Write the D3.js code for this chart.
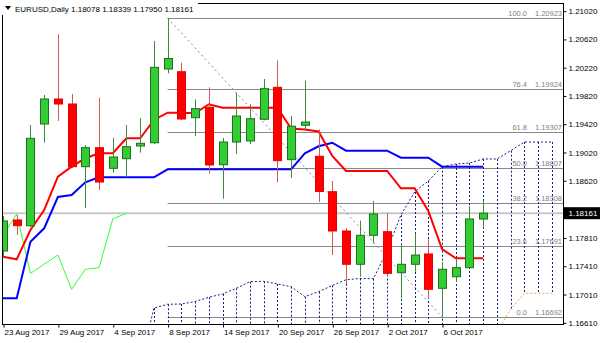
<!DOCTYPE html>
<html>
<head>
<meta charset="utf-8">
<script src="https://cdn.jsdelivr.net/npm/d3@7"></script>
<style>
  body { margin: 0; background: #fff; }
  svg text { font-family: "Liberation Sans", Arial, sans-serif; }
</style>
</head>
<body>
<svg width="600" height="343"></svg>
<script>
// EURUSD daily, 23 Aug - 11 Oct 2017
var dates = ["23 Aug 2017","24 Aug 2017","25 Aug 2017","28 Aug 2017","29 Aug 2017","30 Aug 2017",
  "31 Aug 2017","1 Sep 2017","4 Sep 2017","5 Sep 2017","6 Sep 2017","7 Sep 2017","8 Sep 2017",
  "11 Sep 2017","12 Sep 2017","13 Sep 2017","14 Sep 2017","15 Sep 2017","18 Sep 2017","19 Sep 2017",
  "20 Sep 2017","21 Sep 2017","22 Sep 2017","25 Sep 2017","26 Sep 2017","27 Sep 2017","28 Sep 2017",
  "29 Sep 2017","2 Oct 2017","3 Oct 2017","4 Oct 2017","5 Oct 2017","6 Oct 2017","9 Oct 2017",
  "10 Oct 2017","11 Oct 2017"];

var open = [1.17626,1.18065,1.17984,1.19423,1.19777,1.19706,1.18819,1.19088,1.18796,1.18932,1.19112,1.19158,
  1.20201,1.20163,1.19512,1.19659,1.18847,1.19168,1.19183,1.19490,1.19942,1.18918,1.19405,1.18966,
  1.18465,1.17909,1.17438,1.17848,1.17899,1.17319,1.17438,1.17584,1.17098,1.17262,1.17390,1.18078];
var high = [1.18121,1.18135,1.19409,1.19833,1.20692,1.19848,1.19126,1.19795,1.19229,1.19409,1.19504,1.20598,
  1.20923,1.20290,1.19773,1.19942,1.19225,1.19866,1.19702,1.20060,1.20324,1.19536,1.20036,1.19345,
  1.18617,1.17947,1.18055,1.18333,1.18160,1.17735,1.17876,1.17792,1.17470,1.17527,1.18263,1.18339];
var low = [1.17555,1.17852,1.17966,1.19158,1.19466,1.18800,1.18234,1.18489,1.18734,1.18669,1.19017,1.19140,
  1.20140,1.19475,1.19253,1.18720,1.18366,1.18999,1.19140,1.19475,1.18598,1.18659,1.19348,1.18319,
  1.17569,1.17159,1.17262,1.17735,1.17262,1.16957,1.17333,1.16957,1.16692,1.17187,1.17381,1.17950];
var close = [1.18051,1.17984,1.19221,1.19777,1.19706,1.18819,1.19088,1.18602,1.18956,1.19102,1.19150,1.20225,
  1.20350,1.19494,1.19640,1.18843,1.19168,1.19536,1.19498,1.19923,1.18904,1.19391,1.19451,1.18468,
  1.17909,1.17438,1.17848,1.18150,1.17310,1.17438,1.17569,1.17084,1.17367,1.17390,1.18079,1.18161];

// ichimoku lines
var tenkan = [1.17545,1.17509,1.17923,1.18206,1.18677,1.18819,1.18938,1.19009,1.19009,1.19221,1.19221,1.19480,
  1.19583,1.19583,1.19575,1.19702,1.19654,1.19654,1.19654,1.19654,1.19654,1.19359,1.19345,1.19317,
  1.18970,1.18758,1.18758,1.18758,1.18758,1.18513,1.18513,1.18192,1.17654,1.17523,1.17523,1.17523];
var kijun = [1.16957,1.16957,1.17758,1.17947,1.18390,1.18418,1.18598,1.18669,1.18669,1.18669,1.18669,1.18669,
  1.18782,1.18782,1.18782,1.18782,1.18782,1.18782,1.18782,1.18782,1.18782,1.18782,1.19009,1.19108,
  1.19158,1.19045,1.19045,1.19045,1.19045,1.18946,1.18946,1.18946,1.18819,1.18819,1.18819,1.18819];
var chikou = [1.17848,1.18150,1.17310,1.17438,1.17569,1.17084,1.17367,1.17390,1.18079,1.18161];

// cloud spans, bar 10 .. bar 40 (spanB mostly below the visible range)
var cloudStart = 10;
var spanA = [1.16013,1.16819,1.16872,1.16876,1.16911,1.16971,1.17018,1.17098,1.17192,1.17197,1.17159,
  1.17121,1.16979,1.17050,1.17138,1.17219,1.17237,1.17234,1.17632,1.18135,1.18461,1.18617,1.18819,
  1.18857,1.18871,1.18928,1.18928,1.19045,1.19168,1.19168,1.19168];
var spanB = [1.15980,1.15980,1.15990,1.15990,1.16000,1.16000,1.16010,1.16010,1.16020,1.16020,1.16030,
  1.16100,1.16100,1.16110,1.16110,1.16120,1.16120,1.16130,1.16130,1.16140,1.16140,1.16250,1.16250,
  1.16260,1.16260,1.16270,1.16480,1.16805,1.17027,1.17027,1.17027];

var fibLevels = ["100.0","76.4","61.8","50.0","38.2","23.6","0.0"];
var fibPrices = [1.20923,1.19924,1.19307,1.18807,1.18308,1.17691,1.16692];
var priceTicks = [1.21020,1.20620,1.20220,1.19820,1.19420,1.19020,1.18620,1.17810,1.17410,1.17010,1.16610];
var lastPrice = 1.18161;

var svg = d3.select("svg");
var pl = 2.5, pr = 563.5, pt = 3.5, pb = 324.5;

var x = d3.scaleLinear().domain([0, 40]).range([3, 551.8]);
var y = d3.scaleLinear().domain([fibPrices[6], fibPrices[0]]).range([317, 18]);

svg.append("defs").append("clipPath").attr("id", "plot")
  .append("rect").attr("x", pl).attr("y", pt).attr("width", pr - pl).attr("height", pb - pt);

var g = svg.append("g").attr("clip-path", "url(#plot)");

// current price line
g.append("line")
  .attr("x1", pl).attr("x2", pr)
  .attr("y1", y(lastPrice)).attr("y2", y(lastPrice))
  .style("stroke", "#c8c8c8").style("stroke-width", 2);

// fibonacci
var fibStart = 12, fibEnd = 32;
g.append("line")
  .attr("x1", x(fibStart)).attr("y1", y(fibPrices[0]))
  .attr("x2", x(fibEnd)).attr("y2", y(fibPrices[6]))
  .style("stroke", "#8585a0").style("stroke-width", 1).style("stroke-dasharray", "2,3");

g.selectAll(".fib")
    .data(fibPrices)
  .enter().append("line")
    .attr("class", "fib")
    .attr("x1", x(fibStart)).attr("x2", pr)
    .attr("y1", d => Math.round(y(d)) + 0.5).attr("y2", d => Math.round(y(d)) + 0.5)
    .style("stroke", "#8a8a8a").style("stroke-width", 1);

// cloud
var cloudIdx = d3.range(spanA.length).map(i => i + cloudStart);
g.selectAll(".kumo")
    .data(cloudIdx)
  .enter().append("line")
    .attr("class", "kumo")
    .attr("x1", i => Math.round(x(i)) + 0.5).attr("x2", i => Math.round(x(i)) + 0.5)
    .attr("y1", i => y(spanA[i - cloudStart])).attr("y2", i => y(spanB[i - cloudStart]))
    .style("stroke", "#1a1a80").style("stroke-width", 1).style("stroke-dasharray", "2,2");

var line = d3.line().x(d => x(d[0])).y(d => y(d[1]));

g.append("path")
  .attr("d", line(cloudIdx.map(i => [i, spanA[i - cloudStart]])))
  .style("fill", "none").style("stroke", "#1a1a80").style("stroke-width", 1).style("stroke-dasharray", "2,2");
g.append("path")
  .attr("d", line(cloudIdx.map(i => [i, spanB[i - cloudStart]])))
  .style("fill", "none").style("stroke", "#f5a050").style("stroke-width", 1).style("stroke-dasharray", "2,2");

// fib labels
var fibText = svg.append("g").style("font-size", "7.5px").style("fill", "#808080");
fibText.selectAll(".lvl")
    .data(fibLevels)
  .enter().append("text")
    .attr("x", 527).attr("y", (d, i) => Math.round(y(fibPrices[i])) - 2)
    .attr("text-anchor", "end")
    .text(d => d);
fibText.selectAll(".prc")
    .data(fibPrices)
  .enter().append("text")
    .attr("x", 562).attr("y", d => Math.round(y(d)) - 2)
    .attr("text-anchor", "end")
    .text(d => d.toFixed(5));

// ichimoku lines
g.append("path")
  .attr("d", line(chikou.map((v, i) => [i, v])))
  .style("fill", "none").style("stroke", "#33ff33").style("stroke-width", 1);
g.append("path")
  .attr("d", line(kijun.map((v, i) => [i, v])))
  .style("fill", "none").style("stroke", "#0000ff").style("stroke-width", 2);
g.append("path")
  .attr("d", line(tenkan.map((v, i) => [i, v])))
  .style("fill", "none").style("stroke", "#ff0000").style("stroke-width", 2);

// candles
var bars = d3.range(dates.length);
var candle = g.selectAll(".candle")
    .data(bars)
  .enter().append("g")
    .attr("class", "candle");

candle.append("line")
  .attr("x1", i => Math.round(x(i)) + 0.5).attr("x2", i => Math.round(x(i)) + 0.5)
  .attr("y1", i => y(high[i])).attr("y2", i => y(low[i]))
  .style("stroke", i => close[i] >= open[i] ? "#3c8c3c" : "#d05a5a")
  .style("stroke-width", 1);

candle.append("rect")
  .attr("x", i => Math.round(x(i)) - 3.5)
  .attr("width", 8)
  .attr("y", i => y(Math.max(open[i], close[i])))
  .attr("height", i => Math.max(1, Math.abs(y(open[i]) - y(close[i]))))
  .style("fill", i => close[i] >= open[i] ? "#32cd32" : "#ff0000")
  .style("stroke", i => close[i] >= open[i] ? "#1f6e1f" : "#e60000")
  .style("stroke-width", 1);

// frame
svg.append("rect")
  .attr("x", pl).attr("y", pt).attr("width", pr - pl).attr("height", pb - pt)
  .style("fill", "none").style("stroke", "#000").style("stroke-width", 1);

// price axis
var yAxis = svg.append("g")
  .attr("transform", "translate(" + pr + ",0)")
  .call(d3.axisRight(y).tickValues(priceTicks).tickSize(3).tickPadding(2).tickFormat(d3.format(".5f")));
yAxis.select(".domain").remove();
yAxis.selectAll("text").style("font-size", "8px").style("fill", "#000");

// last price box
svg.append("rect")
  .attr("x", pr + 0.5).attr("y", y(lastPrice) - 6).attr("width", 600 - pr).attr("height", 12)
  .style("fill", "#000");
svg.append("text")
  .attr("x", pr + 5).attr("y", y(lastPrice)).attr("dy", "0.32em")
  .style("font-size", "8px").style("fill", "#fff")
  .text(lastPrice.toFixed(5));

// date axis
var xAxis = svg.append("g")
  .attr("transform", "translate(0," + pb + ")")
  .call(d3.axisBottom(x).tickValues(d3.range(0, dates.length, 4)).tickSize(3).tickFormat(i => dates[i]));
xAxis.select(".domain").remove();
xAxis.selectAll(".tick line").attr("transform", "translate(0.5,0)");
xAxis.selectAll("text")
  .attr("text-anchor", "start").attr("x", 1).attr("y", 5)
  .style("font-size", "8px").style("fill", "#000");

// header
svg.append("rect").attr("x", 0).attr("y", 0).attr("width", 198).attr("height", 15).style("fill", "#fff");
svg.append("path").attr("d", "M5,6L11,6L8,10Z").style("fill", "#000");
svg.append("text")
  .attr("x", 15).attr("y", 12)
  .style("font-size", "8px").style("fill", "#000")
  .text("EURUSD,Daily " + [open[35], high[35], low[35], close[35]].map(d => d.toFixed(5)).join(" "));
</script>
</body>
</html>
